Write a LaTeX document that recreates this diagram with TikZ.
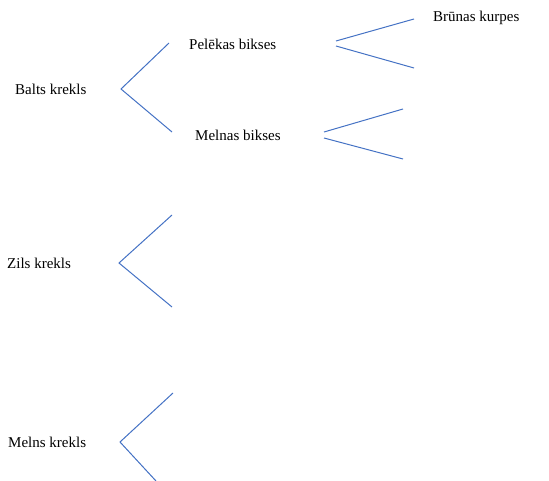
\documentclass[tikz,border=0pt]{standalone}
\usepackage{fontspec}
\setmainfont{Liberation Serif}
\definecolor{branch}{RGB}{68,114,196}
\begin{document}
\begin{tikzpicture}[x=1pt,y=-1pt,
  lbl/.style={inner sep=0pt,anchor=west,font=\fontsize{15}{18}\selectfont},
  branchline/.style={draw=branch,line width=1pt}]
\useasboundingbox (0,0) rectangle (549,481);
% labels
\node[lbl] (balts) at (15,89) {Balts krekls};
\node[lbl] (pelekas) at (189,44) {Pelēkas bikses};
\node[lbl] (melnasb) at (195,135) {Melnas bikses};
\node[lbl] (brunas) at (433,18) {Brūnas kurpes};
\node[lbl] (zils) at (7,263) {Zils krekls};
\node[lbl] (melns) at (8,442) {Melns krekls};
% branch points
\coordinate (bv) at (121,89);
\coordinate (b1) at (169,43);
\coordinate (b2) at (172,132);
\coordinate (p1s) at (336,41);
\coordinate (p1e) at (414,19);
\coordinate (p2s) at (336,46);
\coordinate (p2e) at (414,68);
\coordinate (m1s) at (324,132);
\coordinate (m1e) at (403,109);
\coordinate (m2s) at (324,138);
\coordinate (m2e) at (403,159);
\coordinate (zv) at (119,263);
\coordinate (z1) at (172,215);
\coordinate (z2) at (172,307);
\coordinate (mv) at (120,442);
\coordinate (mk1) at (173,393);
\coordinate (mk2) at (156,481);
% lines
\draw[branchline] (b1) -- (bv) -- (b2);
\draw[branchline] (p1s) -- (p1e);
\draw[branchline] (p2s) -- (p2e);
\draw[branchline] (m1s) -- (m1e);
\draw[branchline] (m2s) -- (m2e);
\draw[branchline] (z1) -- (zv) -- (z2);
\draw[branchline] (mk1) -- (mv) -- (mk2);
\end{tikzpicture}
\end{document}
